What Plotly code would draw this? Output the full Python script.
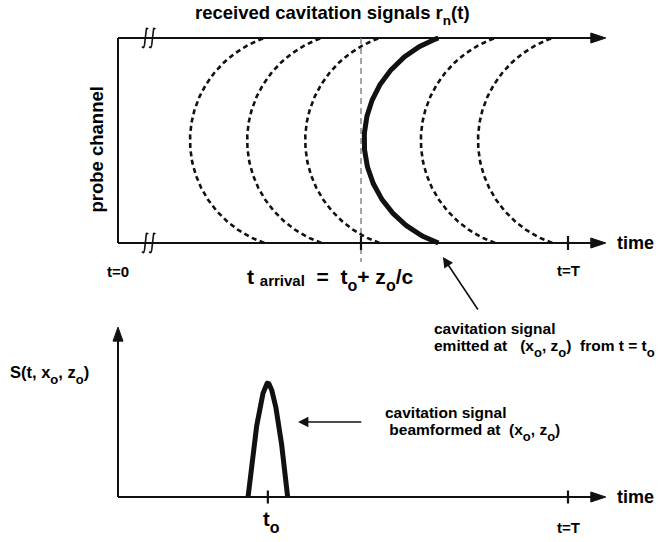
import numpy as np
import plotly.graph_objects as go

# ---- schematic values (time in arbitrary units, record runs 0..T) ----
T_END = 10.0                 # t = T, end of the record
T_AXIS_TIP = 10.84           # tip of the time-axis arrows
vertex_times = [1.60, 2.87, 4.16, 5.47, 6.73, 8.00]   # arrival time at the centre channel
EMITTED = 3                  # index of the wavefront emitted at (x_o, z_o)
curve_depth = 1.65           # extra delay reached at the outermost channels
t_arrival = 5.40             # t_arrival = t_o + z_o / c
t_o = 3.33                   # emission time
pulse_halfwidth = 0.44       # half support of the beamformed pulse
pulse_peak = 1.0             # beamformed amplitude at t_o
S_AXIS_TIP = 1.49            # top of the S(t, x_o, z_o) axis

# ---- coordinate frames ----
# x: time; y: probe channel position s in [-1, 1] (top panel);
# y2: beamformed amplitude (bottom panel)
PX_T, PX_S, PX_A = 45.0, 102.5, 114.0   # pixels per unit on each scale
X_RANGE = [-118 / PX_T, 541 / PX_T]
Y_RANGE = [-1 - 299 / PX_S, 1 + 38 / PX_S]
Y2_RANGE = [-45 / PX_A, 497 / PX_A]

INK = "#111111"
FONT = "Arial, 'Liberation Sans', sans-serif"

fig = go.Figure()


def line(x, y, yaxis="y", width=2.0, dash="solid", color=INK):
    fig.add_trace(go.Scatter(x=x, y=y, yaxis=yaxis, mode="lines",
                             line=dict(color=color, width=width, dash=dash),
                             hoverinfo="skip", showlegend=False))


def head_right(x_tip, y_tip, yaxis="y", length=15, half=5):
    py = PX_S if yaxis == "y" else PX_A
    xs = [x_tip, x_tip - length / PX_T, x_tip - length / PX_T, x_tip]
    ys = [y_tip, y_tip + half / py, y_tip - half / py, y_tip]
    fig.add_trace(go.Scatter(x=xs, y=ys, yaxis=yaxis, mode="lines", fill="toself",
                             fillcolor=INK, line=dict(color=INK, width=1),
                             hoverinfo="skip", showlegend=False))


def head_up(x_tip, y_tip, yaxis="y2", length=14, half=5):
    py = PX_S if yaxis == "y" else PX_A
    xs = [x_tip, x_tip - half / PX_T, x_tip + half / PX_T, x_tip]
    ys = [y_tip, y_tip - length / py, y_tip - length / py, y_tip]
    fig.add_trace(go.Scatter(x=xs, y=ys, yaxis=yaxis, mode="lines", fill="toself",
                             fillcolor=INK, line=dict(color=INK, width=1),
                             hoverinfo="skip", showlegend=False))


def tick(x, yaxis="y", half=7, width=2.2):
    py = PX_S if yaxis == "y" else PX_A
    line([x, x], [-half / py, half / py] if yaxis == "y2" else [-1 - half / py, -1 + half / py],
         yaxis=yaxis, width=width)


def squiggle(xc, yc, w=3.2, h=9.0):
    # integral-sign shaped break mark on an axis line
    p = np.linspace(-1, 1, 50)
    xs = xc + (w / PX_T) * (0.25 * p + 0.75 * p ** 3)
    ys = yc + (h / PX_S) * np.sin(0.62 * np.pi * p) / np.sin(0.62 * np.pi)
    line(xs, ys, width=1.6)


# ---- top panel: channel frame ----
line([0, 0], [-1, 1])
for s_edge in (1, -1):
    line([0, T_AXIS_TIP - 10 / PX_T], [s_edge, s_edge])
    head_right(T_AXIS_TIP, s_edge)
    squiggle(0.60, s_edge)
    squiggle(0.76, s_edge)

# t_arrival marker
line([t_arrival, t_arrival], [1, -1 - 19 / PX_S], width=1.4, dash="6px,4px", color="#808080")
tick(t_arrival)
tick(T_END)

# received wavefronts across the channels
s = np.linspace(-1, 1, 241)
k = 0.94
shape = (1 - np.sqrt(1 - (k * s) ** 2)) / (1 - np.sqrt(1 - k ** 2))
for i, tv in enumerate(vertex_times):
    if i == EMITTED:
        continue
    line(tv + curve_depth * shape, s, width=2.6, dash="5px,3.5px")
line(vertex_times[EMITTED] + curve_depth * shape, s, width=5.0)

# ---- bottom panel: beamformed output ----
line([0, 0], [0, S_AXIS_TIP - 10 / PX_A], yaxis="y2")
head_up(0, S_AXIS_TIP)
line([0, T_AXIS_TIP - 10 / PX_T], [0, 0], yaxis="y2")
head_right(T_AXIS_TIP, 0, yaxis="y2")
tick(t_o, yaxis="y2", half=6.5)
tick(T_END, yaxis="y2", half=6.5)

u = np.linspace(-1, 1, 201)
line(t_o + pulse_halfwidth * u, pulse_peak * (1 - np.abs(u) ** 1.7), yaxis="y2", width=5.0)

# ---- labels ----
ann = []


def text(x, y, txt, size=14, yref="y", xanchor="left", yanchor="middle", angle=0):
    ann.append(dict(x=x, y=y, xref="x", yref=yref, text="<b>" + txt + "</b>",
                    showarrow=False, xanchor=xanchor, yanchor=yanchor, textangle=angle,
                    font=dict(family=FONT, size=size, color="black")))


def arrow(x_tip, y_tip, x_tail, y_tail, yref="y"):
    ann.append(dict(x=x_tip, y=y_tip, ax=x_tail, ay=y_tail, xref="x", yref=yref,
                    axref="x", ayref=yref, text="", showarrow=True, arrowhead=2,
                    arrowsize=1.3, arrowwidth=1.6, arrowcolor=INK, standoff=0))


def sub(ch, size, drop=3):
    return ("<sub><span style='font-size:%gpx;baseline-shift:-%gpx'>%s</span></sub>"
            % (size, drop, ch))


NB = "\u00a0"
text(4.76, 1 + 23 / PX_S, "received cavitation signals r" + sub("n", 13.5, 2) + "(t)",
     size=18.5, xanchor="center")
text(-0.47, -0.09, "probe channel", size=18.5, xanchor="center", angle=-90)
text(11.05, -1, "time", size=18)
text(0, -1.28, "t=0", size=15, xanchor="center")
text(T_END, -1.27, "t=T", size=15, xanchor="center")
text(2.82, -1.36,
     "t" + NB + "<span style='font-size:15px;baseline-shift:-2px'>arrival</span>" + NB + NB
     + "=" + NB + NB + "t" + sub("o", 16) + "+" + NB + "z" + sub("o", 16) + "/c", size=21)
text(6.98, -1.83, "cavitation signal", size=15.5)
text(6.98, -2.03, "emitted at" + NB * 3 + "(x" + sub("o", 13) + ", z" + sub("o", 13) + ")" + NB * 2
     + "from t = t" + sub("o", 13), size=15.5)
arrow(7.22, -1.137, 8.02, -1.663)

text(-2.44, (497 - 375) / PX_A, "S(t, x" + sub("o", 13) + ", z" + sub("o", 13) + ")",
     size=16.5, yref="y2")
text(11.05, 0, "time", size=18, yref="y2")
text(t_o + 0.09, -0.22, "t" + sub("o", 16), size=20, yref="y2", xanchor="center")
text(T_END, -0.265, "t=T", size=15, yref="y2", xanchor="center")
text(5.89, 0.737, "cavitation signal", size=15.5, yref="y2")
text(5.89, 0.57, NB + "beamformed at" + NB + NB + "(x" + sub("o", 13) + ", z" + sub("o", 13) + ")",
     size=15.5, yref="y2")
arrow(4.0, 0.658, 5.44, 0.658, yref="y2")

fig.update_layout(
    width=659, height=542, margin=dict(l=0, r=0, t=0, b=0),
    paper_bgcolor="white", plot_bgcolor="white", showlegend=False,
    xaxis=dict(range=X_RANGE, visible=False, fixedrange=True),
    yaxis=dict(range=Y_RANGE, visible=False, fixedrange=True),
    yaxis2=dict(range=Y2_RANGE, visible=False, overlaying="y", fixedrange=True),
    annotations=ann,
)

fig.write_html("out.html")
